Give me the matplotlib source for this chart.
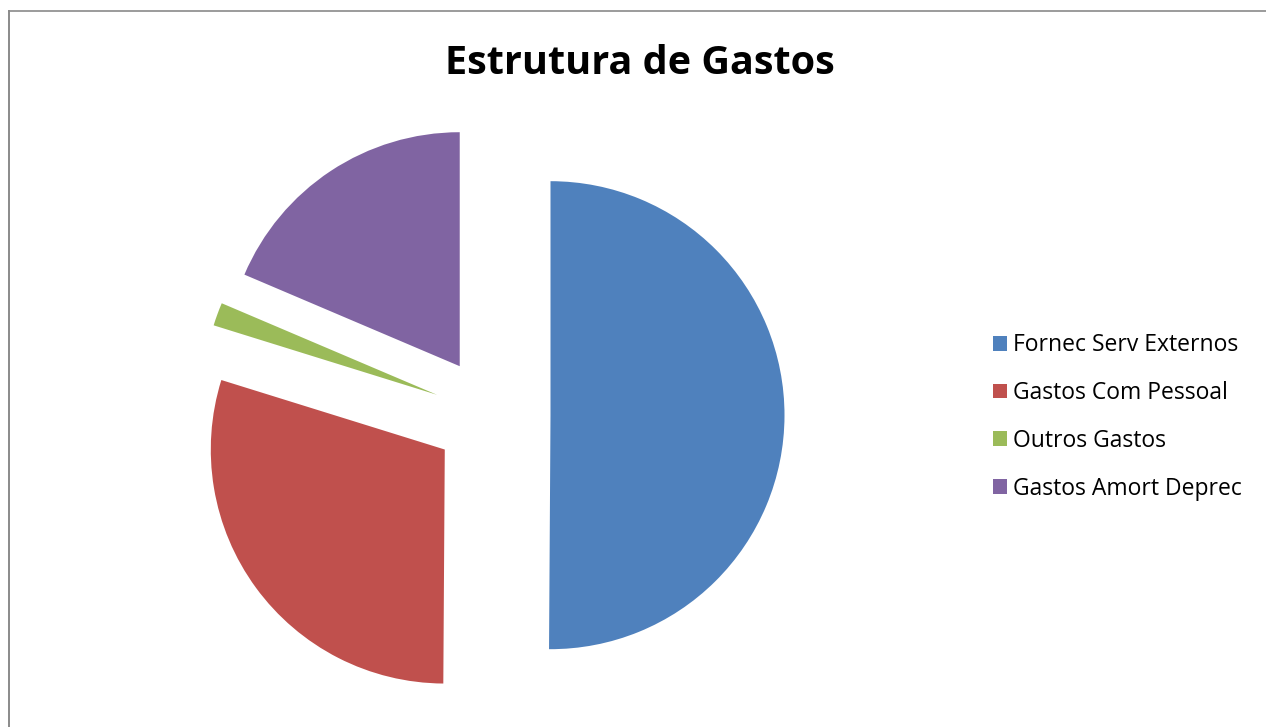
import matplotlib.pyplot as plt
from matplotlib.lines import Line2D

# estrutura de gastos (% do total)
categorias = ['Fornec Serv Externos', 'Gastos Com Pessoal', 'Outros Gastos', 'Gastos Amort Deprec']
valores = [50.1, 29.7, 1.6, 18.6]
cores = ['#4F81BD', '#C0504D', '#9BBB59', '#8064A2']

W, H = 1266, 727
fig = plt.figure(figsize=(W / 100, H / 100), dpi=100)
fig.patch.set_facecolor('white')

# moldura do gráfico (só esquerda e topo ficam visíveis)
fig.add_artist(Line2D([8.5 / W, 8.5 / W], [-0.05, (H - 10.5) / H], color='#8a8a8a', lw=1.4))
fig.add_artist(Line2D([8.5 / W, 1.05], [(H - 10.5) / H, (H - 10.5) / H], color='#8a8a8a', lw=1.2))

# eixo do pie: centro em (492, 415) px, raio 234 px
cx, cy, r = 492, 415, 234
half = 1.3 * r
ax = fig.add_axes([(cx - half) / W, (H - cy - half) / H, 2 * half / W, 2 * half / H])
wedges, _ = ax.pie(valores, colors=cores, startangle=90, counterclock=False,
                   explode=[0.25] * len(valores), radius=1.0,
                   wedgeprops=dict(linewidth=0))
ax.set_xlim(-1.3, 1.3)
ax.set_ylim(-1.3, 1.3)
ax.set_aspect('equal')
ax.axis('off')

fig.text(640 / W, (H - 63) / H, 'Estrutura de Gastos', ha='center', va='center',
         fontsize=28.5, fontweight='bold', family='Open Sans')

fig.legend(wedges, categorias, loc='center left', bbox_to_anchor=(993 / W, (H - 417) / H),
           frameon=False, prop=dict(family='Open Sans', size=16.5),
           handlelength=0.61, handleheight=0.61, handletextpad=0.26,
           labelspacing=1.04, borderpad=0, borderaxespad=0)

fig.savefig('out.png', dpi=100, facecolor='white')
